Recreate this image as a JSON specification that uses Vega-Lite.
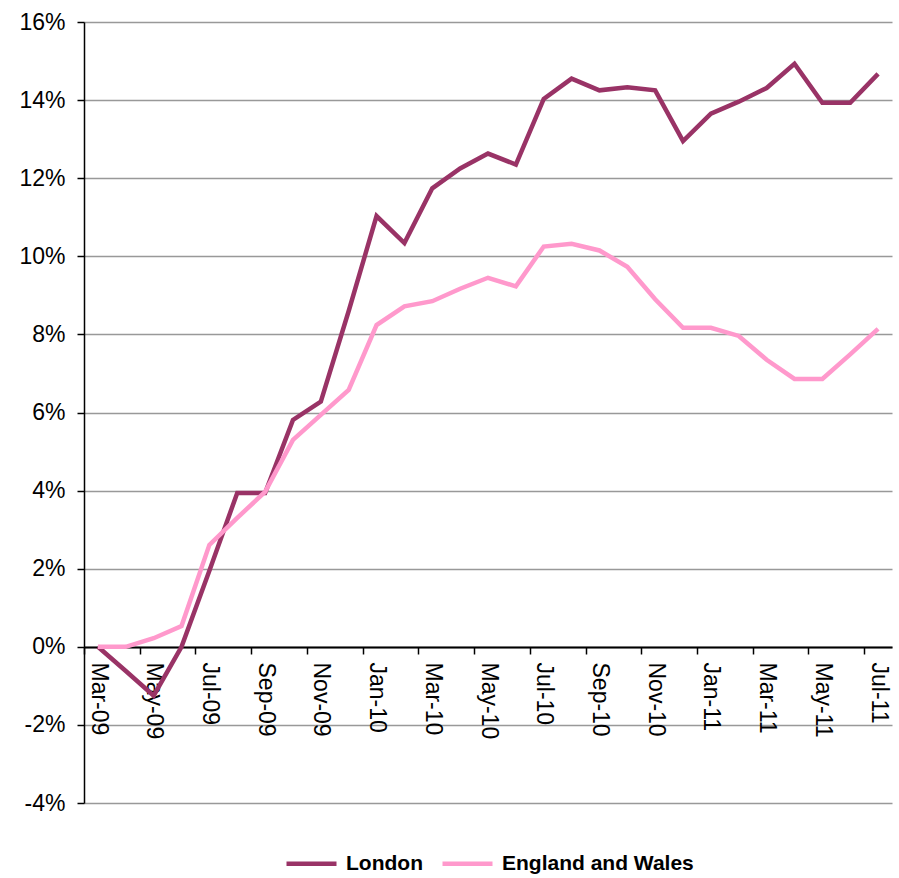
{
  "$schema": "https://vega.github.io/schema/vega-lite/v6.json",
  "width": 808,
  "height": 781,
  "autosize": {"type": "none"},
  "padding": {"left": 84, "top": 22, "right": 7, "bottom": 75},
  "background": "white",
  "config": {"view": {"stroke": null}, "font": "Liberation Sans"},
  "datasets": {
    "raw": [
      {"i": 0, "month": "Mar-09", "London": 0, "England and Wales": 0},
      {"i": 1, "month": "Apr-09", "London": -0.62, "England and Wales": 0},
      {"i": 2, "month": "May-09", "London": -1.25, "England and Wales": 0.22},
      {"i": 3, "month": "Jun-09", "London": 0, "England and Wales": 0.53},
      {"i": 4, "month": "Jul-09", "London": 1.95, "England and Wales": 2.61},
      {"i": 5, "month": "Aug-09", "London": 3.94, "England and Wales": 3.3},
      {"i": 6, "month": "Sep-09", "London": 3.94, "England and Wales": 3.97},
      {"i": 7, "month": "Oct-09", "London": 5.81, "England and Wales": 5.3},
      {"i": 8, "month": "Nov-09", "London": 6.28, "England and Wales": 5.94},
      {"i": 9, "month": "Dec-09", "London": 8.6, "England and Wales": 6.58},
      {"i": 10, "month": "Jan-10", "London": 11.03, "England and Wales": 8.24},
      {"i": 11, "month": "Feb-10", "London": 10.34, "England and Wales": 8.72},
      {"i": 12, "month": "Mar-10", "London": 11.74, "England and Wales": 8.85},
      {"i": 13, "month": "Apr-10", "London": 12.25, "England and Wales": 9.17},
      {"i": 14, "month": "May-10", "London": 12.63, "England and Wales": 9.45},
      {"i": 15, "month": "Jun-10", "London": 12.35, "England and Wales": 9.23},
      {"i": 16, "month": "Jul-10", "London": 14.03, "England and Wales": 10.25},
      {"i": 17, "month": "Aug-10", "London": 14.55, "England and Wales": 10.32},
      {"i": 18, "month": "Sep-10", "London": 14.25, "England and Wales": 10.15},
      {"i": 19, "month": "Oct-10", "London": 14.33, "England and Wales": 9.73},
      {"i": 20, "month": "Nov-10", "London": 14.25, "England and Wales": 8.9},
      {"i": 21, "month": "Dec-10", "London": 12.95, "England and Wales": 8.17},
      {"i": 22, "month": "Jan-11", "London": 13.65, "England and Wales": 8.17},
      {"i": 23, "month": "Feb-11", "London": 13.96, "England and Wales": 7.96},
      {"i": 24, "month": "Mar-11", "London": 14.31, "England and Wales": 7.35},
      {"i": 25, "month": "Apr-11", "London": 14.93, "England and Wales": 6.86},
      {"i": 26, "month": "May-11", "London": 13.93, "England and Wales": 6.86},
      {"i": 27, "month": "Jun-11", "London": 13.93, "England and Wales": 7.49},
      {"i": 28, "month": "Jul-11", "London": 14.67, "England and Wales": 8.14}
    ]
  },
  "data": {"name": "raw"},
  "transform": [
    {"fold": ["London", "England and Wales"], "as": ["series", "value"]}
  ],
  "mark": {"type": "line", "strokeWidth": 4.5, "strokeJoin": "miter"},
  "encoding": {
    "x": {
      "field": "i",
      "type": "quantitative",
      "scale": {"domain": [-0.5, 28.5], "nice": false, "zero": false},
      "axis": {
        "title": null,
        "values": [-0.5, 1.5, 3.5, 5.5, 7.5, 9.5, 11.5, 13.5, 15.5, 17.5, 19.5, 21.5, 23.5, 25.5, 27.5],
        "labelExpr": "['Mar-09','Apr-09','May-09','Jun-09','Jul-09','Aug-09','Sep-09','Oct-09','Nov-09','Dec-09','Jan-10','Feb-10','Mar-10','Apr-10','May-10','Jun-10','Jul-10','Aug-10','Sep-10','Oct-10','Nov-10','Dec-10','Jan-11','Feb-11','Mar-11','Apr-11','May-11','Jun-11','Jul-11'][datum.value + 0.5]",
        "labelAngle": 90,
        "labelAlign": "left",
        "labelBaseline": "middle",
        "labelOffset": 14,
        "labelFlush": false,
        "labelOverlap": false,
        "offset": -156,
        "grid": false,
        "domainColor": "black",
        "domainWidth": 2,
        "tickColor": "black",
        "tickSize": 7,
        "tickWidth": 1.5,
        "labelFontSize": 23,
        "labelColor": "black",
        "labelPadding": 8
      }
    },
    "y": {
      "field": "value",
      "type": "quantitative",
      "scale": {"domain": [-4, 16], "nice": false},
      "axis": {
        "title": null,
        "values": [-4, -2, 0, 2, 4, 6, 8, 10, 12, 14, 16],
        "labelExpr": "datum.value + '%'",
        "gridColor": "#999999",
        "gridWidth": 1.5,
        "domainColor": "black",
        "domainWidth": 1.5,
        "tickColor": "black",
        "tickSize": 7,
        "tickWidth": 1.5,
        "labelFontSize": 23,
        "labelColor": "black",
        "labelPadding": 12
      }
    },
    "color": {
      "field": "series",
      "type": "nominal",
      "sort": ["London", "England and Wales"],
      "scale": {"domain": ["London", "England and Wales"], "range": ["#993366", "#FF99CC"]},
      "legend": {
        "title": null,
        "orient": "none",
        "direction": "horizontal",
        "legendX": 200,
        "legendY": 814,
        "symbolType": "stroke",
        "symbolSize": 2500,
        "symbolStrokeWidth": 4.5,
        "labelFontSize": 21,
        "labelFontWeight": "bold",
        "labelColor": "black",
        "labelOffset": 7,
        "labelLimit": 400,
        "columnPadding": 10
      }
    }
  }
}
